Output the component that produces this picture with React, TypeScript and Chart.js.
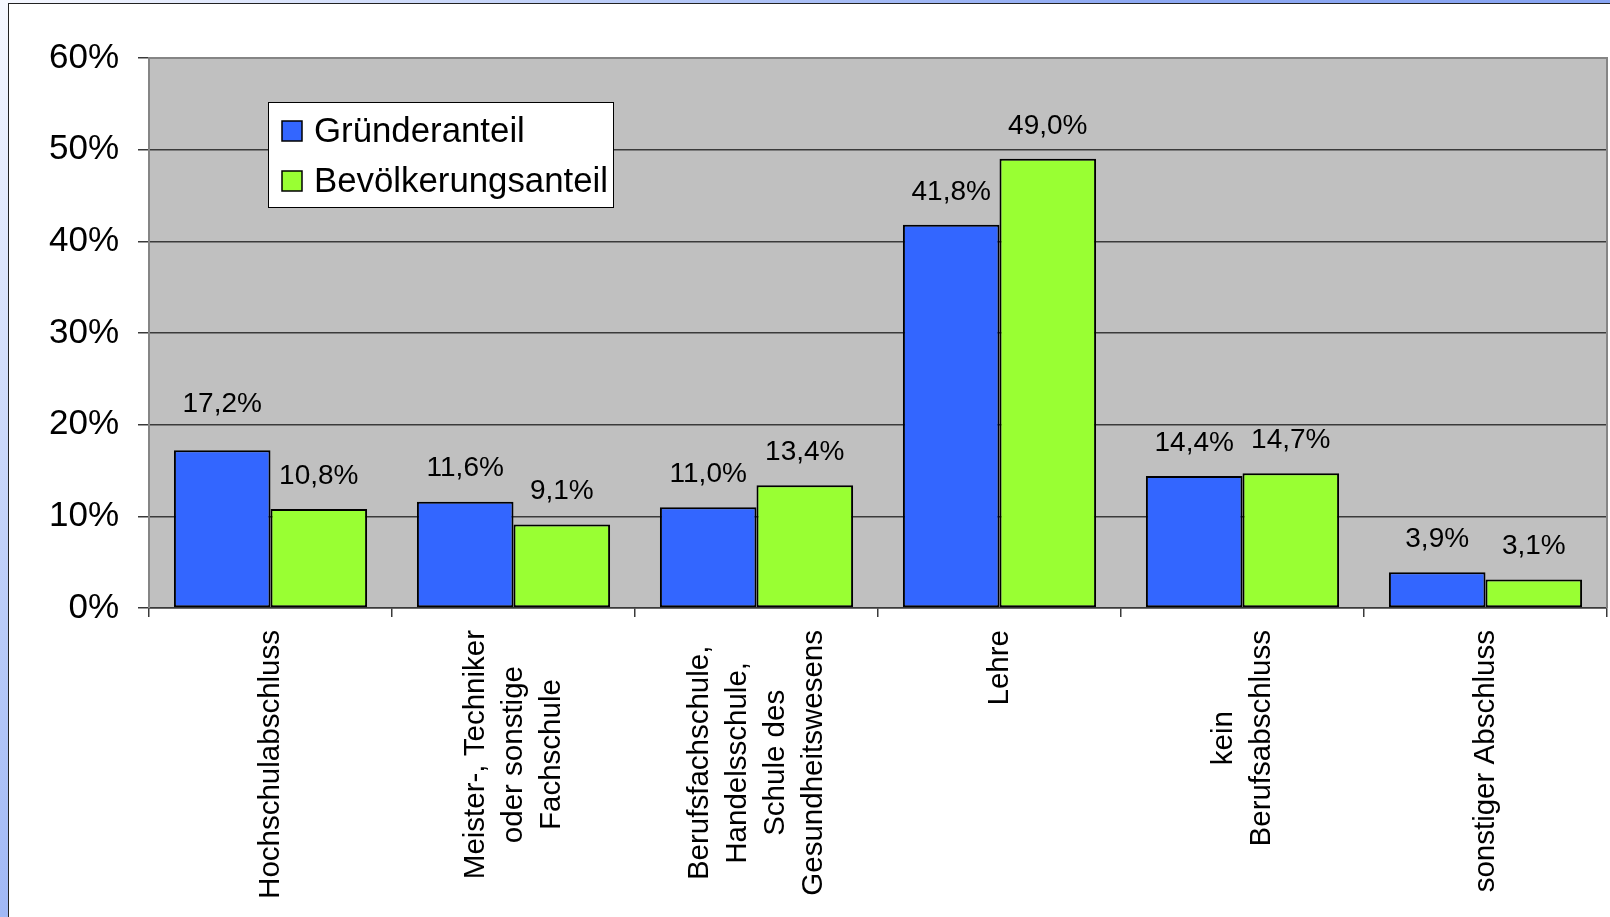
import React, { useEffect, useRef } from "react";
import { Chart, registerables } from "chart.js";

Chart.register(...registerables);

// ---- data ----
const categories: string[][] = [
  ["Hochschulabschluss"],
  ["Meister-, Techniker", "oder sonstige", "Fachschule"],
  ["Berufsfachschule,", "Handelsschule,", "Schule des", "Gesundheitswesens"],
  ["Lehre"],
  ["kein", "Berufsabschluss"],
  ["sonstiger Abschluss"],
];
const gruenderanteil = [17.2, 11.6, 11.0, 41.8, 14.4, 3.9];
const bevoelkerungsanteil = [10.8, 9.1, 13.4, 49.0, 14.7, 3.1];
const seriesNames = ["Gründeranteil", "Bevölkerungsanteil"];
const yTicks = [0, 10, 20, 30, 40, 50, 60];

// ---- style ----
const FONT = '"Liberation Sans", Arial, Helvetica, sans-serif';
const BLUE = "#3366FF";
const GREEN = "#99FF33";
const PLOT_BG = "#C0C0C0";
const GRID = "#3a3a3a";
const LABEL_OFFSET = 33;
const LABEL_EXTRA: Record<string, number> = { "0-0": 13 };

const fmt = (v: number) => v.toFixed(1).replace(".", ",") + "%";

const plotBgPlugin = {
  id: "plotBg",
  beforeDraw(chart: any) {
    const { ctx, chartArea: a } = chart;
    ctx.save();
    ctx.fillStyle = PLOT_BG;
    ctx.fillRect(a.left, a.top, a.right - a.left, a.bottom - a.top);
    ctx.restore();
  },
  beforeDatasetsDraw(chart: any) {
    const { ctx, chartArea: a } = chart;
    ctx.save();
    ctx.strokeStyle = "#858585";
    ctx.lineWidth = 2;
    ctx.beginPath();
    ctx.moveTo(a.left, a.bottom);
    ctx.lineTo(a.left, a.top);
    ctx.lineTo(a.right, a.top);
    ctx.lineTo(a.right, a.bottom);
    ctx.stroke();
    ctx.restore();
  },
};

const dataLabelPlugin = {
  id: "dataLabels",
  afterDatasetsDraw(chart: any) {
    const { ctx } = chart;
    ctx.save();
    ctx.font = `28px ${FONT}`;
    ctx.fillStyle = "#000";
    ctx.textAlign = "center";
    ctx.textBaseline = "middle";
    chart.data.datasets.forEach((ds: any, di: number) => {
      const meta = chart.getDatasetMeta(di);
      meta.data.forEach((el: any, i: number) => {
        const extra = LABEL_EXTRA[`${di}-${i}`] || 0;
        ctx.fillText(fmt(ds.data[i]), el.x, el.y - LABEL_OFFSET - extra);
      });
    });
    ctx.restore();
  },
};

const xLabelPlugin = {
  id: "xLabels",
  afterDraw(chart: any) {
    const { ctx, chartArea: a } = chart;
    const xs = chart.scales.x;
    const lineH = 38;
    ctx.save();
    ctx.font = `29.5px ${FONT}`;
    ctx.fillStyle = "#000";
    ctx.textAlign = "center";
    ctx.textBaseline = "middle";
    categories.forEach((lines, i) => {
      const x = xs.getPixelForValue(i);
      const w = Math.max(...lines.map((l) => ctx.measureText(l).width));
      ctx.save();
      ctx.translate(x, a.bottom + 22);
      ctx.rotate(-Math.PI / 2);
      lines.forEach((l, j) => {
        ctx.fillText(l, -w / 2, (j - (lines.length - 1) / 2) * lineH);
      });
      ctx.restore();
    });
    ctx.restore();
  },
};

const legendPlugin = {
  id: "customLegend",
  afterDraw(chart: any) {
    const { ctx, chartArea: a } = chart;
    const left = a.left + 119;
    const top = a.top + 44;
    const w = 345;
    const h = 105;
    ctx.save();
    ctx.fillStyle = "#fff";
    ctx.fillRect(left, top, w, h);
    ctx.strokeStyle = "#000";
    ctx.lineWidth = 1;
    ctx.strokeRect(left + 0.5, top + 0.5, w, h);
    const colors = [BLUE, GREEN];
    ctx.font = `34.8px ${FONT}`;
    ctx.textBaseline = "middle";
    ctx.textAlign = "left";
    seriesNames.forEach((name, i) => {
      const cy = top + 29 + i * 50;
      ctx.fillStyle = colors[i];
      ctx.fillRect(left + 14, cy - 10, 20, 20);
      ctx.strokeStyle = "#000";
      ctx.lineWidth = 1.5;
      ctx.strokeRect(left + 14, cy - 10, 20, 20);
      ctx.fillStyle = "#000";
      ctx.fillText(name, left + 46, cy + 1);
    });
    ctx.restore();
  },
};

export default function App() {
  const ref = useRef<HTMLCanvasElement | null>(null);

  useEffect(() => {
    if (!ref.current) return;
    const chart = new Chart(ref.current, {
      type: "bar",
      data: {
        labels: categories.map((c) => c.join(" ")),
        datasets: [
          {
            label: seriesNames[0],
            data: gruenderanteil,
            backgroundColor: BLUE,
            borderColor: "#000",
            borderWidth: 2,
            borderSkipped: false,
          },
          {
            label: seriesNames[1],
            data: bevoelkerungsanteil,
            backgroundColor: GREEN,
            borderColor: "#000",
            borderWidth: 2,
            borderSkipped: false,
          },
        ],
      },
      options: {
        responsive: false,
        animation: false,
        devicePixelRatio: 1,
        layout: { padding: { left: 0, top: 58, right: 3, bottom: 0 } },
        datasets: {
          bar: { categoryPercentage: 0.795, barPercentage: 1.0 },
        },
        plugins: {
          legend: { display: false },
          title: { display: false },
          tooltip: { enabled: false },
        },
        scales: {
          x: {
            offset: true,
            grid: {
              display: true,
              offset: true,
              drawOnChartArea: false,
              drawTicks: true,
              tickLength: 9,
              color: GRID,
              lineWidth: 1.5,
            },
            border: { display: true, color: GRID, width: 1.5 },
            ticks: { display: false },
            afterFit: (s: any) => {
              s.height = 309;
            },
          },
          y: {
            min: 0,
            max: 60,
            afterBuildTicks: (s: any) => {
              s.ticks = yTicks.map((v) => ({ value: v }));
            },
            grid: {
              color: GRID,
              lineWidth: 1.5,
              drawTicks: true,
              tickLength: 11,
            },
            border: { display: false },
            ticks: {
              padding: 19,
              color: "#000",
              font: { family: FONT, size: 35 },
              callback: (v: any) => `${v}%`,
            },
            afterFit: (s: any) => {
              s.width = 149;
            },
          },
        },
      },
      plugins: [plotBgPlugin, dataLabelPlugin, xLabelPlugin, legendPlugin],
    } as any);
    return () => chart.destroy();
  }, []);

  return (
    <div
      style={{
        position: "fixed",
        left: 0,
        top: 0,
        width: 1610,
        height: 917,
        overflow: "hidden",
        background:
          "linear-gradient(135deg, #f6f8ff 0%, #b9cbf8 25%, #8ea9f3 45%, #7c9bf0 100%)",
      }}
    >
      <div
        style={{
          position: "absolute",
          left: 8,
          top: 3,
          width: 1700,
          height: 1000,
          background: "#fff",
          borderLeft: "1.5px solid #222",
          borderTop: "1.5px solid #222",
        }}
      />
      <canvas
        ref={ref}
        width={1610}
        height={917}
        style={{ position: "absolute", left: 0, top: 0, width: 1610, height: 917 }}
      />
    </div>
  );
}
